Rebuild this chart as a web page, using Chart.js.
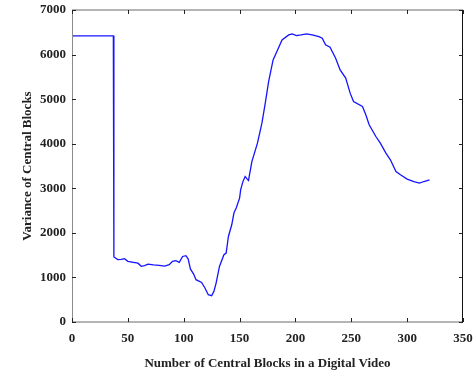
<!DOCTYPE html>
<html>
<head>
<meta charset="utf-8">
<script src="https://cdn.jsdelivr.net/npm/chart.js@4/dist/chart.umd.min.js"></script>
<style>
  html, body { margin: 0; padding: 0; background: #fff; }
  #wrap { width: 474px; height: 377px; }
</style>
</head>
<body>
<div id="wrap"><canvas id="c" width="474" height="377"></canvas></div>
<script>
// Number of central blocks (x) and their variance (y)
const blockIndex = [0, 37, 37.5, 41, 44, 47, 50, 55, 59, 62, 65, 68, 73, 78, 83, 87, 90, 93, 96, 99, 102, 104, 106, 109, 111, 116, 119, 122, 125, 127, 129, 132, 136, 138, 140, 143, 145, 147, 150, 151, 153, 155, 157, 158, 161, 166, 170, 173, 176, 180, 184, 188, 194, 197, 201, 205, 210, 215, 221, 224, 227, 231, 236, 240, 245, 249, 252, 260, 263, 266, 272, 276, 281, 285, 290, 294, 300, 306, 311, 315, 320];
const variance = [6420, 6420, 1460, 1400, 1405, 1420, 1360, 1340, 1320, 1250, 1265, 1300, 1280, 1270, 1255, 1285, 1360, 1375, 1337, 1470, 1487, 1413, 1190, 1070, 950, 888, 762, 612, 590, 686, 874, 1247, 1509, 1547, 1919, 2182, 2450, 2560, 2780, 2970, 3150, 3265, 3200, 3175, 3600, 4013, 4460, 4910, 5395, 5880, 6105, 6330, 6440, 6464, 6426, 6440, 6464, 6441, 6404, 6368, 6218, 6166, 5919, 5657, 5471, 5135, 4946, 4834, 4648, 4424, 4162, 4013, 3789, 3639, 3377, 3303, 3206, 3152, 3117, 3152, 3190];
const xTicks = [0, 50, 100, 150, 200, 250, 300, 350];
const yTicks = [0, 1000, 2000, 3000, 4000, 5000, 6000, 7000];

const points = blockIndex.map((x, i) => ({ x: x, y: variance[i] }));
const font = { family: "'Liberation Serif', 'Times New Roman', serif", weight: 'bold', size: 13 };
const plain = v => String(v);

// Box around the plot with inward tick marks
const framePlugin = {
  id: 'frame',
  afterDraw(chart) {
    const { ctx, chartArea: a, scales } = chart;
    ctx.save();
    ctx.lineWidth = 2;
    ctx.strokeStyle = '#b4b4b4';
    ctx.beginPath();
    ctx.moveTo(a.left, a.top); ctx.lineTo(a.right, a.top);
    ctx.moveTo(a.left, a.bottom); ctx.lineTo(a.right, a.bottom);
    ctx.stroke();
    ctx.lineWidth = 1;
    ctx.strokeStyle = '#8c8c8c';
    ctx.beginPath();
    ctx.moveTo(a.left + 0.5, a.top); ctx.lineTo(a.left + 0.5, a.bottom);
    ctx.stroke();
    ctx.strokeStyle = '#111';
    ctx.beginPath();
    ctx.moveTo(a.right - 0.5, a.top); ctx.lineTo(a.right - 0.5, a.bottom);
    ctx.stroke();
    ctx.strokeStyle = '#222';
    ctx.beginPath();
    const t = 4;
    xTicks.forEach(v => {
      const px = Math.round(scales.x.getPixelForValue(v)) + 0.5;
      ctx.moveTo(px, a.bottom); ctx.lineTo(px, a.bottom - t);
      ctx.moveTo(px, a.top); ctx.lineTo(px, a.top + t);
    });
    yTicks.forEach(v => {
      const py = Math.round(scales.y.getPixelForValue(v)) + 0.5;
      ctx.moveTo(a.left, py); ctx.lineTo(a.left + t, py);
      ctx.moveTo(a.right, py); ctx.lineTo(a.right - t, py);
    });
    ctx.stroke();
    ctx.restore();
  }
};

new Chart(document.getElementById('c'), {
  type: 'line',
  data: {
    datasets: [{
      data: points,
      borderColor: '#1414ff',
      borderWidth: 1.3,
      pointRadius: 0,
      tension: 0,
      fill: false
    }]
  },
  options: {
    responsive: false,
    animation: false,
    parsing: false,
    layout: { padding: { top: 10, right: 11, bottom: 0, left: 0 } },
    plugins: { legend: { display: false }, tooltip: { enabled: false } },
    scales: {
      x: {
        type: 'linear',
        min: 0, max: 350,
        afterBuildTicks: s => { s.ticks = xTicks.map(v => ({ value: v })); },
        afterFit: s => { s.height = 55; s.paddingLeft = 0; s.paddingRight = 0; },
        grid: { display: false, drawTicks: false },
        border: { display: false },
        ticks: { color: '#222', font: font, padding: 9, maxRotation: 0, callback: plain },
        title: { display: true, text: 'Number of Central Blocks in a Digital Video', color: '#222', font: font, padding: { top: 5, bottom: 6 } }
      },
      y: {
        type: 'linear',
        min: 0, max: 7000,
        afterBuildTicks: s => { s.ticks = yTicks.map(v => ({ value: v })); },
        afterFit: s => { s.width = 72; s.paddingTop = 0; s.paddingBottom = 0; },
        grid: { display: false, drawTicks: false },
        border: { display: false },
        ticks: { color: '#222', font: font, padding: 6, callback: plain },
        title: { display: true, text: 'Variance of Central Blocks', color: '#222', font: font, padding: { top: 20, bottom: 0 } }
      }
    }
  },
  plugins: [framePlugin]
});
</script>
</body>
</html>
